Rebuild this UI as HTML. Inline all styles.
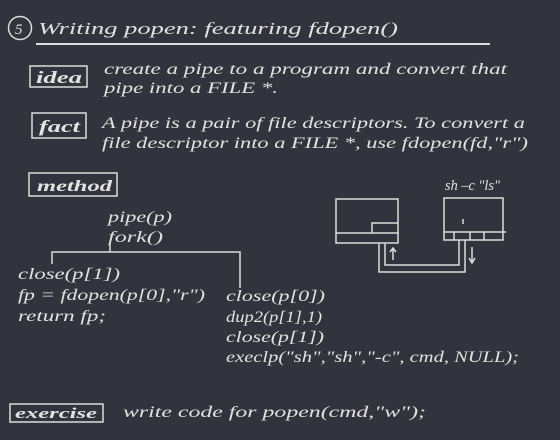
<!DOCTYPE html>
<html><head><style>
body{margin:0;background:#33333d;}
svg{display:block}
text{font-family:"Liberation Serif",serif;font-style:italic;fill:#e2e2e2;}
</style></head><body>
<svg width="560" height="440" viewBox="0 0 560 440">
<rect width="560" height="440" fill="#33333d"/>
<g stroke="#dcdcdc" fill="none" stroke-width="1.5">
<circle cx="20" cy="28" r="11.5"/>
<line x1="36" y1="44" x2="490" y2="44" stroke-width="2"/>
<rect x="30" y="66" width="57" height="21"/>
<rect x="32" y="113" width="54" height="25"/>
<rect x="29" y="173" width="88" height="23"/>
<rect x="10" y="404" width="93" height="18"/>
<polyline points="52,264 52,252 240,252 240,288"/>
<polyline points="110,244 110,252"/>
<rect x="336" y="199" width="62" height="44"/>
<line x1="336" y1="233" x2="399" y2="233"/>
<polyline points="372,233 372,223 398,223"/>
<rect x="444" y="198" width="59" height="42"/>
<line x1="444" y1="232" x2="506" y2="232"/>
<line x1="454" y1="232" x2="454" y2="240"/>
<line x1="470" y1="232" x2="470" y2="240"/>
<line x1="484" y1="232" x2="484" y2="240"/>
<line x1="463" y1="219" x2="463" y2="224"/>
<polyline points="379,243 379,272 465,272 465,240"/>
<polyline points="385,243 385,265 459,265 459,240"/>
<path d="M393,260 L393,249 M390,252 L393,248 L396,252"/>
<path d="M472,247 L472,262 M469,258 L472,263 L475,258"/>
</g>
<text x="15" y="34" font-size="15" font-style="normal">5</text>
<g font-size="16">
<text x="38" y="34" font-size="17" textLength="360" lengthAdjust="spacingAndGlyphs">Writing popen:  featuring  fdopen()</text>
<text x="36" y="83" font-size="17" font-weight="bold" textLength="46" lengthAdjust="spacingAndGlyphs">idea</text>
<text x="39" y="132" font-size="17" font-weight="bold" textLength="41" lengthAdjust="spacingAndGlyphs">fact</text>
<text x="37" y="191" font-size="16" font-weight="bold" textLength="75" lengthAdjust="spacingAndGlyphs">method</text>
<text x="15" y="418" font-size="15" font-weight="bold" textLength="82" lengthAdjust="spacingAndGlyphs">exercise</text>
<text x="104" y="74" textLength="403" lengthAdjust="spacingAndGlyphs">create a pipe to a program and convert that</text>
<text x="104" y="93" textLength="174" lengthAdjust="spacingAndGlyphs">pipe into a FILE *.</text>
<text x="102" y="128" textLength="423" lengthAdjust="spacingAndGlyphs">A pipe is a pair of file descriptors.  To convert a</text>
<text x="102" y="148" textLength="426" lengthAdjust="spacingAndGlyphs">file descriptor  into a FILE *,  use  fdopen(fd,"r")</text>
<text x="108" y="222" textLength="64" lengthAdjust="spacingAndGlyphs">pipe(p)</text>
<text x="108" y="242" textLength="55" lengthAdjust="spacingAndGlyphs">fork()</text>
<text x="18" y="279" textLength="102" lengthAdjust="spacingAndGlyphs">close(p[1])</text>
<text x="18" y="300" textLength="187" lengthAdjust="spacingAndGlyphs">fp = fdopen(p[0],"r")</text>
<text x="18" y="321" textLength="88" lengthAdjust="spacingAndGlyphs">return fp;</text>
<text x="226" y="301" textLength="99" lengthAdjust="spacingAndGlyphs">close(p[0])</text>
<text x="226" y="322" textLength="96" lengthAdjust="spacingAndGlyphs">dup2(p[1],1)</text>
<text x="226" y="342" textLength="98" lengthAdjust="spacingAndGlyphs">close(p[1])</text>
<text x="226" y="362" textLength="293" lengthAdjust="spacingAndGlyphs">execlp("sh","sh","-c", cmd, NULL);</text>
<text x="123" y="417" textLength="303" lengthAdjust="spacingAndGlyphs">write code for popen(cmd,"w");</text>
<text x="445" y="190" font-size="15" textLength="55" lengthAdjust="spacingAndGlyphs">sh –c  "ls"</text>
</g>
</svg>
</body></html>
